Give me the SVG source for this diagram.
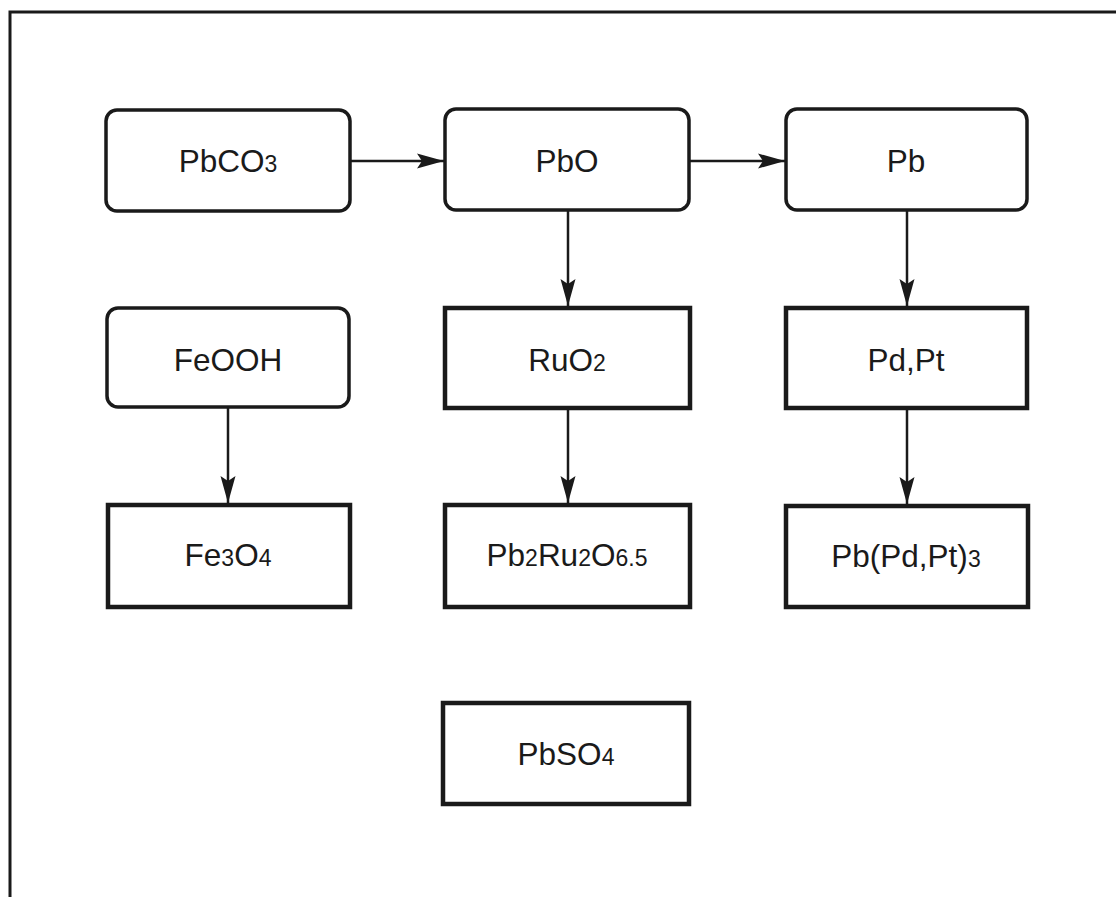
<svg xmlns="http://www.w3.org/2000/svg" width="1116" height="897" viewBox="0 0 1116 897">
  <style>
    .frame { fill: none; stroke: #1a1a1a; stroke-width: 3; }
    .rbox { fill: #ffffff; stroke: #1a1a1a; stroke-width: 3.5; }
    .sbox { fill: #ffffff; stroke: #1a1a1a; stroke-width: 4.5; }
    .edge { fill: none; stroke: #1a1a1a; stroke-width: 2.5; marker-end: url(#arrow); }
    text { font-family: "Liberation Sans", Arial, sans-serif; font-size: 31.5px; fill: #1a1a1a; text-anchor: middle; }
    .sub { font-size: 23px; }
  </style>
  <defs>
    <marker id="arrow" markerUnits="userSpaceOnUse" markerWidth="30" markerHeight="20" viewBox="-28 -10 30 20" refX="0" refY="0" orient="auto">
      <path d="M0,0 L-27,-7.5 L-22,0 L-27,7.5 Z" fill="#1a1a1a"/>
    </marker>
  </defs>

  <rect width="1116" height="897" fill="#ffffff"/>
  <path class="frame" d="M10,897 V12 H1116"/>

  <g id="connectors">
    <line class="edge" x1="350" y1="161" x2="444" y2="161"/>
    <line class="edge" x1="689" y1="161" x2="785" y2="161"/>
    <line class="edge" x1="568" y1="210" x2="568" y2="306"/>
    <line class="edge" x1="907" y1="210" x2="907" y2="306"/>
    <line class="edge" x1="228" y1="407" x2="228" y2="503"/>
    <line class="edge" x1="568" y1="408" x2="568" y2="503"/>
    <line class="edge" x1="907" y1="408" x2="907" y2="504"/>
  </g>

  <g id="node-pbco3">
    <rect class="rbox" x="106" y="110" width="244" height="101" rx="11"/>
    <text x="228" y="172">PbCO<tspan class="sub">3</tspan></text>
  </g>
  <g id="node-pbo">
    <rect class="rbox" x="445" y="109" width="244" height="101" rx="11"/>
    <text x="567" y="172">PbO</text>
  </g>
  <g id="node-pb">
    <rect class="rbox" x="786" y="109" width="241" height="101" rx="11"/>
    <text x="906" y="172">Pb</text>
  </g>
  <g id="node-feooh">
    <rect class="rbox" x="107" y="308" width="242" height="99" rx="11"/>
    <text x="228" y="371">FeOOH</text>
  </g>
  <g id="node-ruo2">
    <rect class="sbox" x="445" y="308" width="245" height="100"/>
    <text x="567" y="371">RuO<tspan class="sub">2</tspan></text>
  </g>
  <g id="node-pdpt">
    <rect class="sbox" x="786" y="308" width="241" height="100"/>
    <text x="906" y="371">Pd,Pt</text>
  </g>
  <g id="node-fe3o4">
    <rect class="sbox" x="108" y="505" width="242" height="102"/>
    <text x="228" y="566">Fe<tspan class="sub">3</tspan>O<tspan class="sub">4</tspan></text>
  </g>
  <g id="node-pb2ru2o65">
    <rect class="sbox" x="445" y="505" width="245" height="102"/>
    <text x="567" y="566">Pb<tspan class="sub">2</tspan>Ru<tspan class="sub">2</tspan>O<tspan class="sub">6.5</tspan></text>
  </g>
  <g id="node-pbpdpt3">
    <rect class="sbox" x="786" y="506" width="242" height="101"/>
    <text x="906" y="567">Pb(Pd,Pt)<tspan class="sub">3</tspan></text>
  </g>
  <g id="node-pbso4">
    <rect class="sbox" x="443" y="703" width="246" height="101"/>
    <text x="566" y="765">PbSO<tspan class="sub">4</tspan></text>
  </g>
</svg>
